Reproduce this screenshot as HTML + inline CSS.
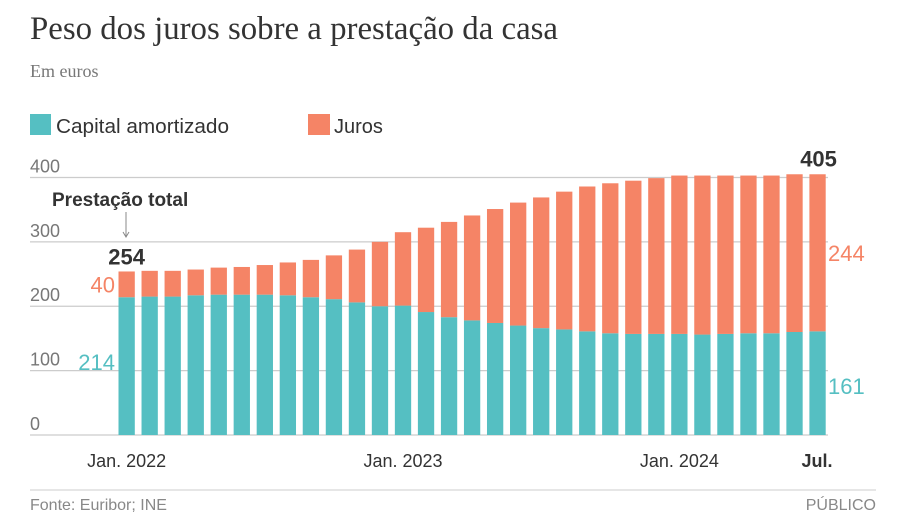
<!DOCTYPE html>
<html><head><meta charset="utf-8">
<style>
body{margin:0;background:#fff;width:900px;height:532px;overflow:hidden;font-family:"Liberation Sans",sans-serif}
</style></head>
<body>
<svg id="chart" width="900" height="532" xmlns="http://www.w3.org/2000/svg" style="display:block">
<text x="30" y="39" font-family="Liberation Serif, serif" font-size="33" fill="#333" textLength="528" lengthAdjust="spacingAndGlyphs">Peso dos juros sobre a prestação da casa</text>
<text x="30" y="77" font-family="Liberation Serif, serif" font-size="18" fill="#777">Em euros</text>
<g>
<rect x="30" y="114" width="21" height="21" fill="#55bfc2"/>
<text x="56" y="133" font-size="20" fill="#333" textLength="173" lengthAdjust="spacingAndGlyphs">Capital amortizado</text>
<rect x="308" y="114" width="22" height="21" fill="#f58466"/>
<text x="334" y="133" font-size="20" fill="#333">Juros</text>
</g>
<g id="grid"></g>
<g id="bars"></g>
<g id="xlabels"></g>
<text x="52" y="206" font-size="19" font-weight="bold" fill="#333">Prestação total</text>
<line x1="126" y1="212" x2="126" y2="236" stroke="#888" stroke-width="1"/>
<path d="M123 232 L126 237 L129 232" fill="none" stroke="#888" stroke-width="1"/>
<g id="labels"></g>
<line x1="30" y1="490" x2="876" y2="490" stroke="#ccc" stroke-width="1"/>
<text x="30" y="510" font-size="16" fill="#888">Fonte: Euribor; INE</text>
<text x="876" y="510" font-size="16" fill="#888" text-anchor="end">PÚBLICO</text>
</svg>
<script>
const capital=[214,215,215,217,218,218,218,217,214,211,206,200,201,191,183,178,174,170,166,164,161,158,157,157,157,156,157,158,158,160,161];
const juros=[40,40,40,40,42,43,46,51,58,68,82,100,114,131,148,163,177,191,203,214,225,233,238,242,246,247,246,245,245,245,244];
const yTicks=[0,100,200,300,400];
const xLabelIdx=[0,12,24,30];
const xLabelText=["Jan. 2022","Jan. 2023","Jan. 2024","Jul."];
const NS="http://www.w3.org/2000/svg";
const y0=435, pxPer=0.6438, x0=118.5, pitch=23.03, bw=16.3;
const y=v=>y0-v*pxPer;
const xc=i=>x0+i*pitch+bw/2;
function mk(tag,attrs,parent,txt){const e=document.createElementNS(NS,tag);for(const k in attrs)e.setAttribute(k,attrs[k]);if(txt!==undefined)e.textContent=txt;document.getElementById(parent).appendChild(e);return e;}
yTicks.forEach(t=>{
  const l=mk('line',{x1:30,x2:828,y1:y(t),y2:y(t),stroke:'#ccc','stroke-width':1.3},'grid');
  
  
  const tx=mk('text',{x:30,y:y(t)-5,'font-size':18,fill:'#777'},'grid',String(t));
  
  
});
capital.forEach((c,i)=>{
  const j=juros[i];
  const x=x0+i*pitch;
  const a=mk('rect',{x:x,y:y(c),width:bw,height:y0-y(c),fill:'#55bfc2'},'bars');
  
  
  const b=mk('rect',{x:x,y:y(c+j),width:bw,height:y(c)-y(c+j),fill:'#f58466'},'bars');
  
  
});
xLabelIdx.forEach((idx,k)=>{
  const last=k===xLabelIdx.length-1;
  const t=mk('text',{x:last?xc(idx)+15:xc(idx),y:467,'font-size':18,fill:'#333','text-anchor':last?'end':'middle','font-weight':last?'bold':'normal'},'xlabels',xLabelText[k]);
  
  
});
const n=capital.length-1;
const f=capital[0], fj=juros[0], lc=capital[n], lj=juros[n];
let e;
e=mk('text',{x:xc(0),y:y(f+fj)-7,'font-size':22,'font-weight':'bold',fill:'#333','text-anchor':'middle'},'labels',String(f+fj));


e=mk('text',{x:115,y:y(f+fj/2)+8,'font-size':22,fill:'#f58466','text-anchor':'end'},'labels',String(fj));


e=mk('text',{x:115,y:y(f/2)+4,'font-size':22,fill:'#55bfc2','text-anchor':'end'},'labels',String(f));


e=mk('text',{x:xc(n)+1,y:y(lc+lj)-8,'font-size':22,'font-weight':'bold',fill:'#333','text-anchor':'middle'},'labels',String(lc+lj));


e=mk('text',{x:828,y:y(lc+lj/2)+8,'font-size':22,fill:'#f58466'},'labels',String(lj));


e=mk('text',{x:828,y:y(lc/2)+11,'font-size':22,fill:'#55bfc2'},'labels',String(lc));


</script>
</body></html>
